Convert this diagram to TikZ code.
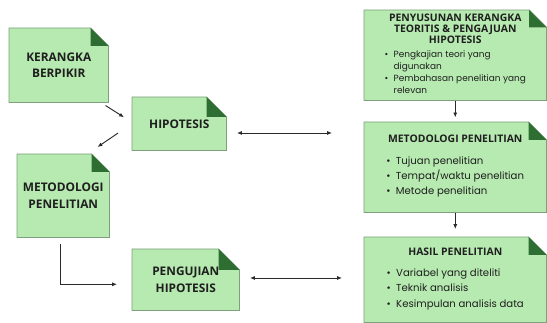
\documentclass[tikz,border=0pt]{standalone}
\usepackage{fontspec}
\setmainfont{Open Sans}
\newfontfamily\listfont{Poppins}
\usetikzlibrary{arrows.meta,backgrounds}
\definecolor{NoteGreen}{HTML}{B6EAB0}
\definecolor{NoteEdge}{HTML}{7FA07C}
\definecolor{FoldGreen}{HTML}{2E6E32}
\definecolor{ArrowInk}{HTML}{2A2A2A}

\begin{document}
\begin{tikzpicture}[x=0.75pt,y=-0.75pt,
  every node/.style={text=black!88},
  note/.style={inner sep=0pt,align=center,anchor=north west,font=\bfseries\fontsize{8.9}{12.5}\selectfont},
  wide/.style={note,minimum width=136.5pt,font=\bfseries\fontsize{7.8}{8.4}\selectfont},
  arr/.style={-{Latex[length=3.6pt,width=3pt]},line width=0.7pt,ArrowInk},
  twoway/.style={{Latex[length=3.6pt,width=3pt]}-{Latex[length=3.6pt,width=3pt]},line width=0.7pt,ArrowInk}]
  \useasboundingbox (0,0) rectangle (547,323);

  % left column
  \node[note,minimum width=74.25pt,minimum height=55.5pt] (kerangka) at (9,28) {KERANGKA\\BERPIKIR};
  \node[note,minimum width=70.5pt,minimum height=39.75pt] (hipo) at (132,97) {HIPOTESIS};
  \node[note,minimum width=69pt,minimum height=62.25pt] (metodologi) at (17,154) {METODOLOGI\\PENELITIAN};
  \node[note,minimum width=80.25pt,minimum height=45.75pt] (uji) at (132,249) {PENGUJIAN\\HIPOTESIS};

  % right column
  \node[wide,minimum height=67.5pt] (susun) at (364,10) {PENYUSUNAN KERANGKA\\TEORITIS \& PENGAJUAN\\HIPOTESIS\\[3pt]
    {\listfont\mdseries\fontsize{6.7}{9}\selectfont\begin{tabular}{@{}l@{\hspace{4pt}}l@{}}
    \textbullet & Pengkajian teori yang\\ & digunakan\\ \textbullet & Pembahasan penelitian yang\\ & relevan\end{tabular}}};
  \node[wide,minimum height=67.5pt] (metode) at (364,122) {METODOLOGI PENELITIAN\\[7pt]
    {\listfont\mdseries\fontsize{7.6}{11.5}\selectfont\begin{tabular}{@{}l@{\hspace{4pt}}l@{}}
    \textbullet & Tujuan penelitian\\ \textbullet & Tempat/waktu penelitian\\ \textbullet & Metode penelitian\end{tabular}}};
  \node[wide,minimum height=63.75pt] (hasil) at (364,237) {HASIL PENELITIAN\\[7pt]
    {\listfont\mdseries\fontsize{7.6}{11.5}\selectfont\begin{tabular}{@{}l@{\hspace{4pt}}l@{}}
    \textbullet & Variabel yang diteliti\\ \textbullet & Teknik analisis\\ \textbullet & Kesimpulan analisis data\end{tabular}}};

  % paper shapes with folded corner
  \begin{scope}[on background layer]
    \foreach \n/\f in {kerangka/13.5,hipo/15,metodologi/13.5,uji/15.75,susun/13,metode/13.5,hasil/13.5}{
      \filldraw[fill=NoteGreen,draw=NoteEdge,line width=0.6pt] (\n.south west) -- (\n.north west) -- ([xshift=-\f pt]\n.north east) -- ([yshift=-\f pt]\n.north east) -- (\n.south east) -- cycle;
      \fill[FoldGreen] ([xshift=-\f pt]\n.north east) -- ([xshift=-\f pt,yshift=-\f pt]\n.north east) -- ([yshift=-\f pt]\n.north east) -- cycle;
    }
  \end{scope}

  \coordinate (hipoL) at (237,133);
  \coordinate (hipoR) at (332,133);
  \coordinate (ujiL) at (250,278);
  \coordinate (ujiR) at (342,278);

  \draw[arr] ([xshift=-2.25pt,yshift=-2.25pt]kerangka.south east) -- ([xshift=-6pt,yshift=4.9pt]hipo.west);
  \draw[arr] ([xshift=-10.5pt,yshift=-7pt]hipo.west) -- ([xshift=-9pt,yshift=5.25pt]metodologi.north east);
  \draw[arr] ([xshift=-2.25pt,yshift=-4.5pt]metodologi.south) |- ([xshift=-11.25pt,yshift=-3.4pt]uji.west);
  \draw[twoway] (hipoL) -- (hipoR);
  \draw[twoway] (ujiL) -- (ujiR);
  \draw[arr,shorten >=3.5pt] (susun.south) -- (metode.north);
  \draw[arr,shorten >=6pt] (metode.south) -- (hasil.north);
\end{tikzpicture}
\end{document}
